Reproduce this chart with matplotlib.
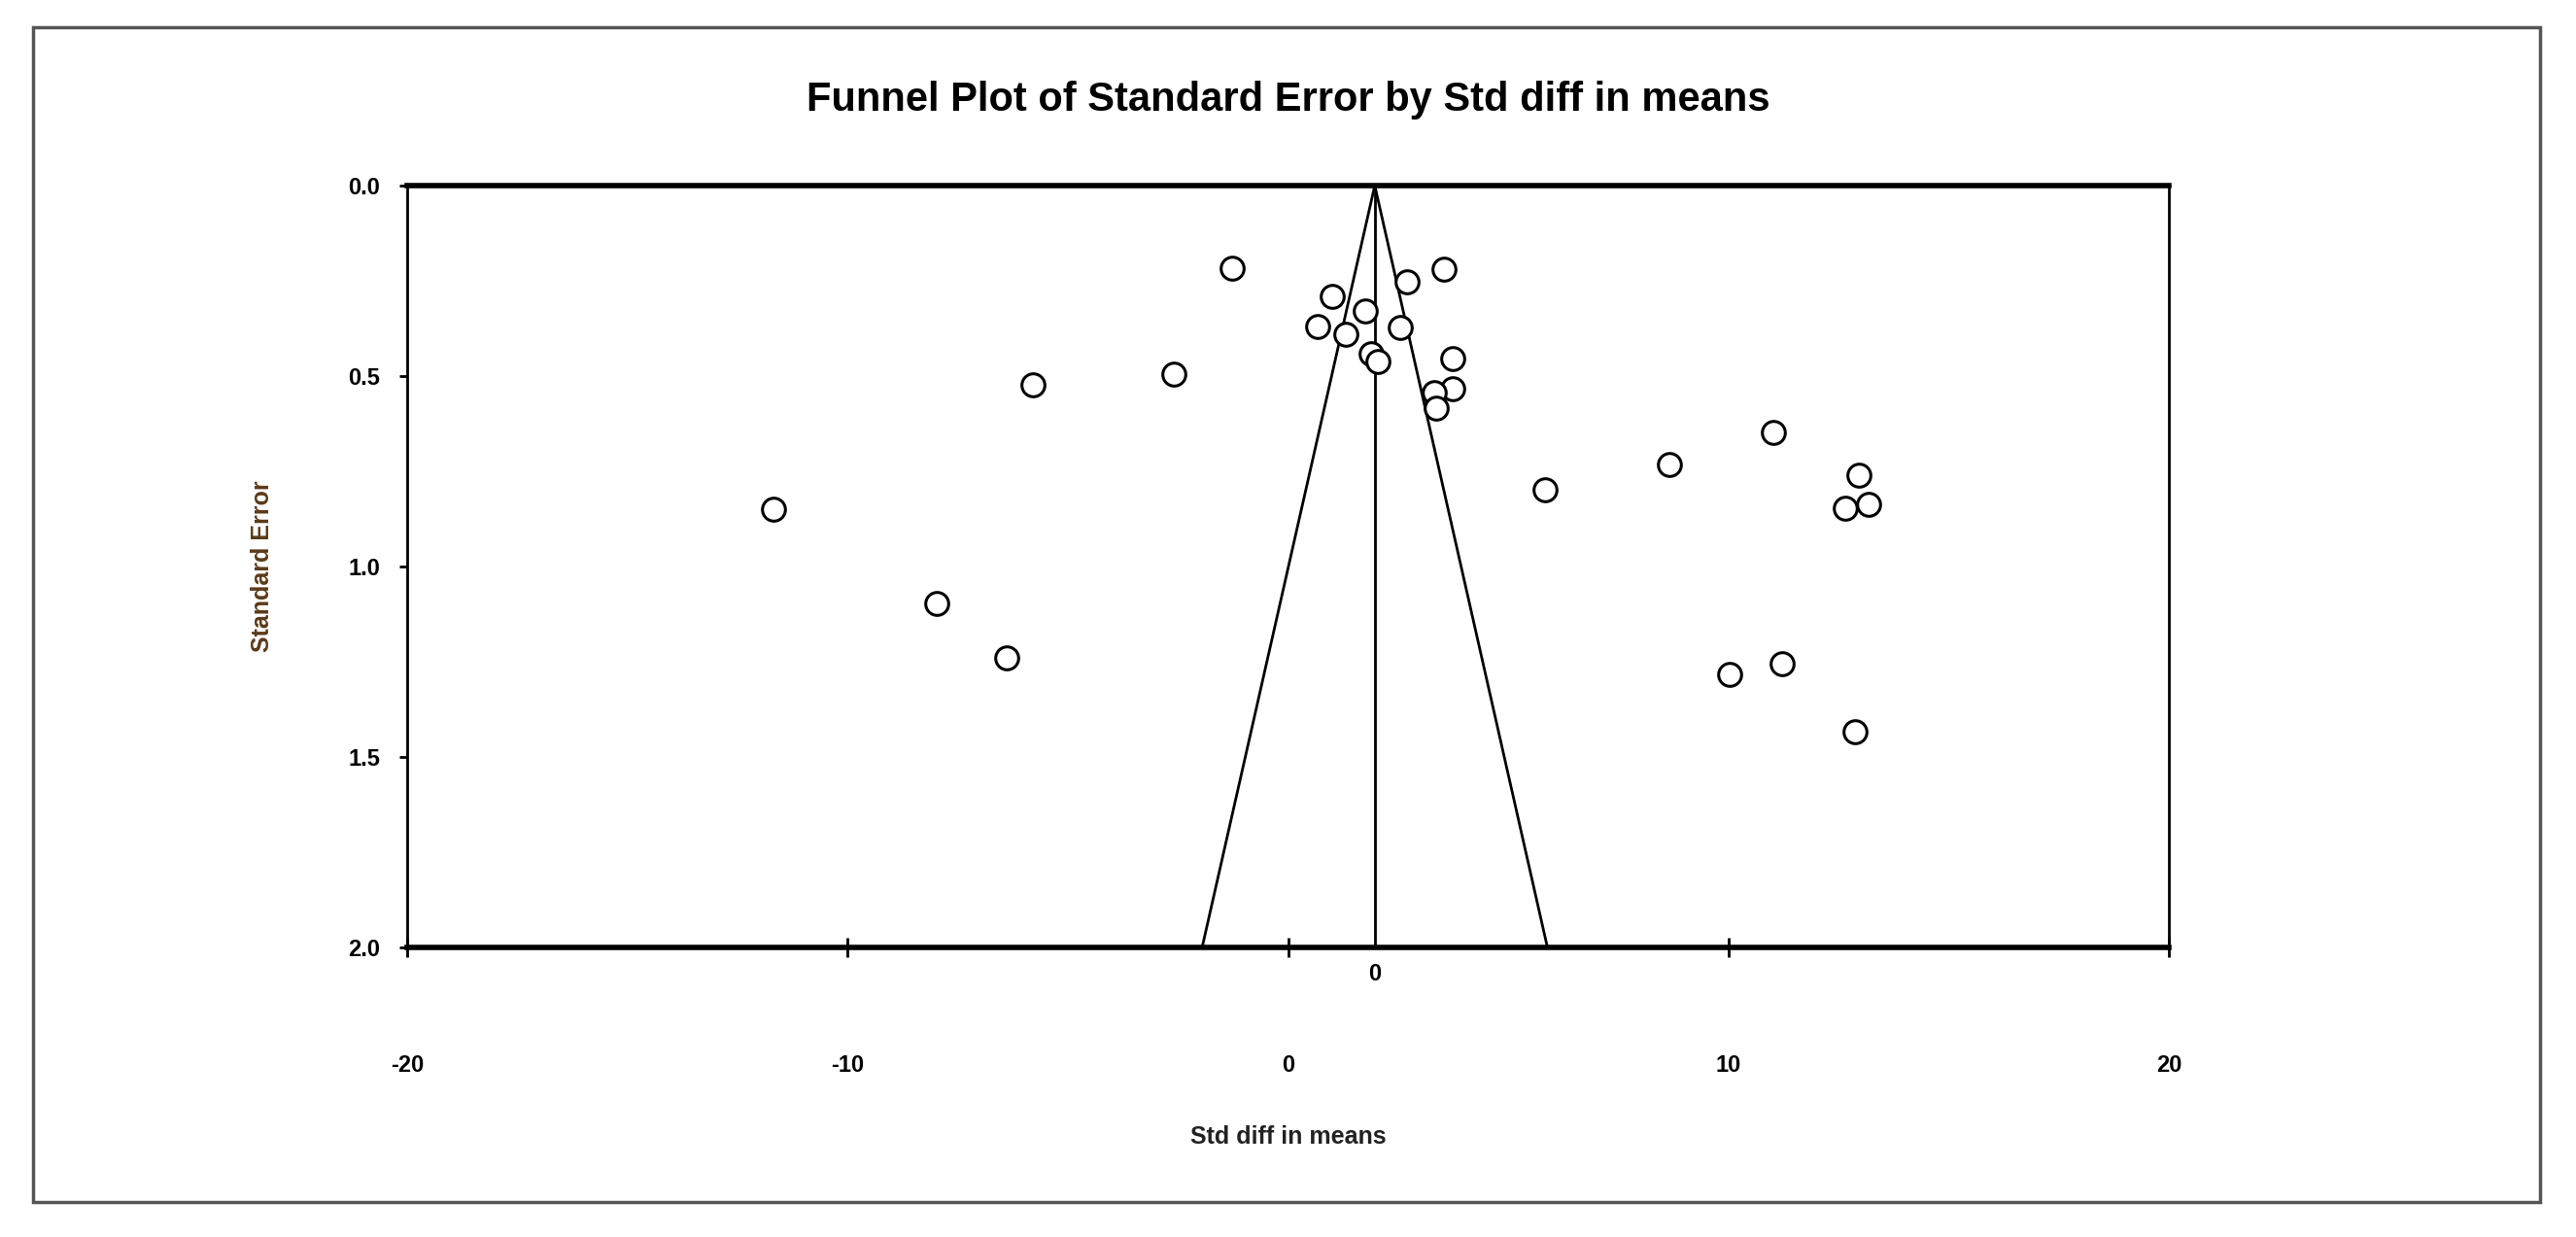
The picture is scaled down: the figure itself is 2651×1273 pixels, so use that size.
import matplotlib.pyplot as plt
import numpy as np

# study effects and standard errors
effect = [-1.26, 3.53, 2.71, 1.01, 1.75, 0.68, 2.55, 1.32, 1.89, 2.03, 3.73, 3.73, 3.32, 3.37,
          -5.78, -2.60, 11.01, 8.66, 5.84, 12.96, 12.66, 13.18, -11.67, -7.97, -6.38, 10.03, 11.21, 12.88]
std_err = [0.216, 0.219, 0.252, 0.292, 0.328, 0.369, 0.373, 0.391, 0.442, 0.461, 0.454, 0.532, 0.544, 0.584,
           0.522, 0.496, 0.649, 0.731, 0.799, 0.760, 0.846, 0.836, 0.850, 1.098, 1.240, 1.284, 1.256, 1.434]
mean_effect = 1.97
x_ticks = [-20, -10, 0, 10, 20]
y_ticks = [0.0, 0.5, 1.0, 1.5, 2.0]

plt.rcParams['font.family'] = ['Liberation Sans', 'DejaVu Sans']
plt.rcParams['font.weight'] = 'bold'

fig = plt.figure(figsize=(26.51, 12.73), dpi=100)
# outer frame
fig.patches.append(plt.Rectangle((0.013, 0.028), 0.973, 0.95, transform=fig.transFigure,
                                 fill=False, edgecolor='#555555', lw=2.5))
ax = fig.add_axes([0.158, 0.234, 0.684, 0.616])

se = np.array([0, 2.0])
ax.plot(mean_effect - 1.96 * se, se, color='black', lw=2)
ax.plot(mean_effect + 1.96 * se, se, color='black', lw=2)
ax.plot([mean_effect, mean_effect], [0, 2.0], color='black', lw=2)
ax.plot(effect, std_err, 'o', ms=17, mfc='white', mec='black', mew=2.2, ls='none')

ax.set_xlim(-20, 20)
ax.set_ylim(2.0, 0.0)
ax.set_xticks(x_ticks)
ax.set_xticklabels([str(t) for t in x_ticks], fontsize=17)
ax.tick_params(axis='x', direction='inout', length=14, width=2, pad=72)
ax.set_yticks(y_ticks)
ax.set_yticklabels(['%.1f' % t for t in y_ticks], fontsize=17)
ax.tick_params(axis='y', direction='out', length=6, width=2, pad=14)
for side in ['top', 'bottom']:
    ax.spines[side].set_linewidth(4)
for side in ['left', 'right']:
    ax.spines[side].set_linewidth(2)

ax.text(mean_effect, 2.04, '0', ha='center', va='top', fontsize=17)
ax.set_xlabel('Std diff in means', fontsize=18, fontweight='bold', labelpad=36, color='#222222')
ax.set_ylabel('Standard Error', fontsize=18, fontweight='bold', labelpad=55, color='#5a3a1a')
fig.suptitle('Funnel Plot of Standard Error by Std diff in means', fontsize=30, fontweight='bold', y=0.935)

fig.savefig('out.png', dpi=100)
